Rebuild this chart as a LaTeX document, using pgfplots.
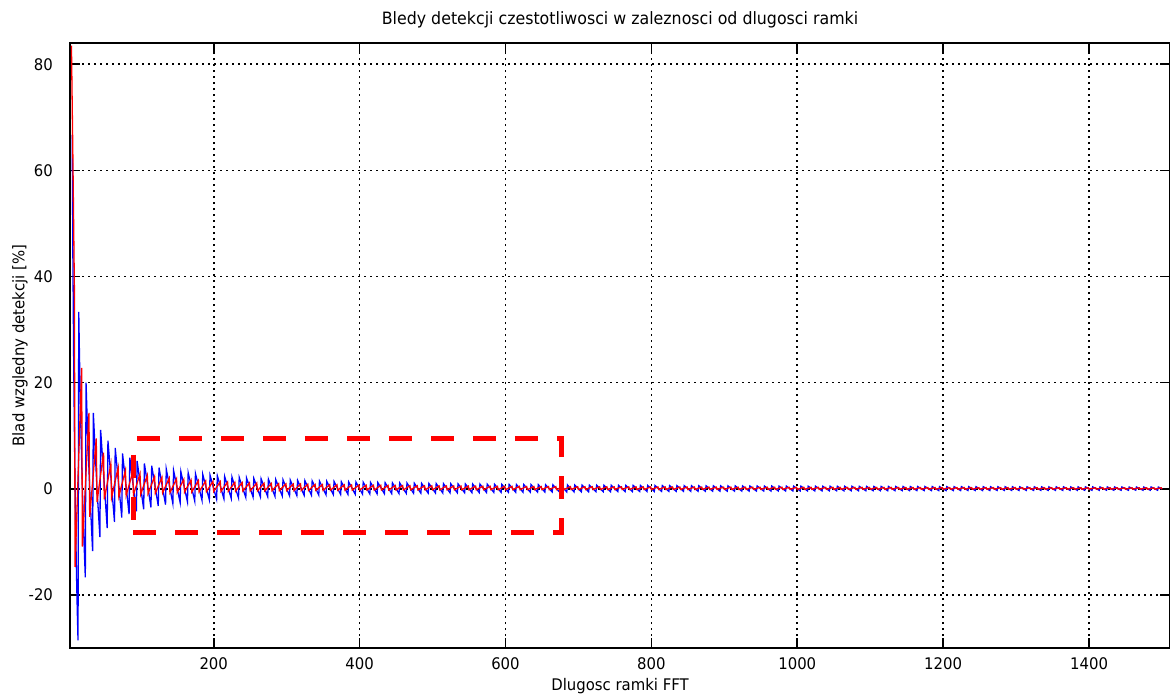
\documentclass[border=0pt]{standalone}
\usepackage{pgfplots}
\pgfplotsset{compat=1.18}
\usepackage{fontspec}
\setmainfont{DejaVu Sans}[FakeStretch=0.93]
\begin{document}
\begin{tikzpicture}
\path[use as bounding box] (-35pt,-25pt) rectangle (550pt,324pt);
\begin{axis}[
  scale only axis, width=550pt, height=302.5pt,
  at={(0,0)}, anchor=south west,
  xmin=3, xmax=1511, ymin=-30, ymax=84,
  xtick={200,400,...,1400}, ytick={-20,0,...,80},
  grid=major,
  major grid style={black, line width=0.8pt, dash pattern=on 0.8pt off 2.2pt},
  tick align=inside, tick pos=both, major tick length=5pt,
  axis line style={black, line width=0.8pt},
  every tick/.style={black, line width=0.8pt},
  font=\fontsize{8}{9.6}\selectfont,
  /pgf/number format/assume math mode=true,
  /pgf/number format/1000 sep={},
  title={Bledy detekcji czestotliwosci w zaleznosci od dlugosci ramki},
  title style={font=\fontsize{8.5}{10}\selectfont, yshift=-2pt},
  xlabel={Dlugosc ramki FFT},
  xlabel style={at={(0.5,0)}, anchor=base, yshift=-21pt},
  ylabel={Blad wzgledny detekcji [\%]},
  ylabel style={at={(axis description cs:-0.0455,0.5)}, anchor=center},
  xticklabel style={anchor=base, yshift=-10.5pt},
  yticklabel style={anchor=east, xshift=-5pt},
]
% blue: FFT bin rounding error
\addplot[blue, line width=0.65pt] coordinates {
(6,66.67) (7,42.86) (8,25) (9,11.11) (10,0) (11,-9.09) (12,-16.67) (13,-23.08) (14,-28.57)
(15,33.33) (16,25) (17,17.65) (18,11.11) (19,5.26) (20,0) (21,-4.76) (22,-9.09) (23,-13.04) (24,-16.67)
(25,20) (27,11.11) (30,0) (34,-11.76) (35,14.29) (40,0) (44,-9.09)
(45,11.11) (54,-7.41) (55,9.09) (64,-6.25) (65,7.69) (74,-5.41) (75,6.67) (84,-4.76)
(85,5.88) (94,-4.26) (95,5.26) (104,-3.85) (105,4.76) (114,-3.51) (115,4.35) (124,-3.23)
(125,4.00) (134,-2.99) (135,3.70) (144,-2.78) (145,3.45) (154,-2.60) (155,3.23) (164,-2.44)
(165,3.03) (174,-2.30) (175,2.86) (184,-2.17) (185,2.70) (194,-2.06) (195,2.56) (204,-1.96)
(205,2.44) (214,-1.87) (215,2.33) (224,-1.79) (225,2.22) (234,-1.71) (235,2.13) (244,-1.64)
(245,2.04) (254,-1.57) (255,1.96) (264,-1.52) (265,1.89) (274,-1.46) (275,1.82) (284,-1.41)
(285,1.75) (294,-1.36) (295,1.69) (304,-1.32) (305,1.64) (314,-1.27) (315,1.59) (324,-1.23)
(325,1.54) (334,-1.20) (335,1.49) (344,-1.16) (345,1.45) (354,-1.13) (355,1.41) (364,-1.10)
(365,1.37) (374,-1.07) (375,1.33) (384,-1.04) (385,1.30) (394,-1.02) (395,1.27) (404,-0.99)
(405,1.23) (414,-0.97) (415,1.20) (424,-0.94) (425,1.18) (434,-0.92) (435,1.15) (444,-0.90)
(445,1.12) (454,-0.88) (455,1.10) (464,-0.86) (465,1.08) (474,-0.84) (475,1.05) (484,-0.83)
(485,1.03) (494,-0.81) (495,1.01) (504,-0.79) (505,0.99) (514,-0.78) (515,0.97) (524,-0.76)
(525,0.95) (534,-0.75) (535,0.93) (544,-0.74) (545,0.92) (554,-0.72) (555,0.90) (564,-0.71)
(565,0.88) (574,-0.70) (575,0.87) (584,-0.68) (585,0.85) (594,-0.67) (595,0.84) (604,-0.66)
(605,0.83) (614,-0.65) (615,0.81) (624,-0.64) (625,0.80) (634,-0.63) (635,0.79) (644,-0.62)
(645,0.78) (654,-0.61) (655,0.76) (664,-0.60) (665,0.75) (674,-0.59) (675,0.74) (684,-0.58)
(685,0.73) (694,-0.58) (695,0.72) (704,-0.57) (705,0.71) (714,-0.56) (715,0.70) (724,-0.55)
(725,0.69) (734,-0.55) (735,0.68) (744,-0.54) (745,0.67) (754,-0.53) (755,0.66) (764,-0.52)
(765,0.65) (774,-0.52) (775,0.65) (784,-0.51) (785,0.64) (794,-0.50) (795,0.63) (804,-0.50)
(805,0.62) (814,-0.49) (815,0.61) (824,-0.49) (825,0.61) (834,-0.48) (835,0.60) (844,-0.47)
(845,0.59) (854,-0.47) (855,0.58) (864,-0.46) (865,0.58) (874,-0.46) (875,0.57) (884,-0.45)
(885,0.56) (894,-0.45) (895,0.56) (904,-0.44) (905,0.55) (914,-0.44) (915,0.55) (924,-0.43)
(925,0.54) (934,-0.43) (935,0.53) (944,-0.42) (945,0.53) (954,-0.42) (955,0.52) (964,-0.42)
(965,0.52) (974,-0.41) (975,0.51) (984,-0.41) (985,0.51) (994,-0.40) (995,0.50) (1004,-0.40)
(1005,0.50) (1014,-0.39) (1015,0.49) (1024,-0.39) (1025,0.49) (1034,-0.39) (1035,0.48) (1044,-0.38)
(1045,0.48) (1054,-0.38) (1055,0.47) (1064,-0.38) (1065,0.47) (1074,-0.37) (1075,0.47) (1084,-0.37)
(1085,0.46) (1094,-0.37) (1095,0.46) (1104,-0.36) (1105,0.45) (1114,-0.36) (1115,0.45) (1124,-0.36)
(1125,0.44) (1134,-0.35) (1135,0.44) (1144,-0.35) (1145,0.44) (1154,-0.35) (1155,0.43) (1164,-0.34)
(1165,0.43) (1174,-0.34) (1175,0.43) (1184,-0.34) (1185,0.42) (1194,-0.34) (1195,0.42) (1204,-0.33)
(1205,0.41) (1214,-0.33) (1215,0.41) (1224,-0.33) (1225,0.41) (1234,-0.32) (1235,0.40) (1244,-0.32)
(1245,0.40) (1254,-0.32) (1255,0.40) (1264,-0.32) (1265,0.39) (1274,-0.31) (1275,0.39) (1284,-0.31)
(1285,0.39) (1294,-0.31) (1295,0.39) (1304,-0.31) (1305,0.38) (1314,-0.30) (1315,0.38) (1324,-0.30)
(1325,0.38) (1334,-0.30) (1335,0.37) (1344,-0.30) (1345,0.37) (1354,-0.30) (1355,0.37) (1364,-0.29)
(1365,0.37) (1374,-0.29) (1375,0.36) (1384,-0.29) (1385,0.36) (1394,-0.29) (1395,0.36) (1404,-0.28)
(1405,0.36) (1414,-0.28) (1415,0.35) (1424,-0.28) (1425,0.35) (1434,-0.28) (1435,0.35) (1444,-0.28)
(1445,0.35) (1454,-0.28) (1455,0.34) (1464,-0.27) (1465,0.34) (1474,-0.27) (1475,0.34) (1484,-0.27)
(1485,0.34) (1494,-0.27) (1495,0.33) (1500,0)
};
% red: second estimate
\addplot[red, line width=0.65pt] coordinates {
(5,83.5) (7,62) (9,38) (10,-14.7) (19,22.8) (20,-10.9) (29,14.3) (30,-5.3) (39,9.5) (40,-2.5)
(49,6.8) (50,-2.0) (59,4.67) (60,-1.67) (69,4.0) (70,-1.43) (79,3.5) (80,-1.25) (89,3.11) (90,-1.11)
(99,2.8) (100,-1.0) (109,2.55) (110,-0.91) (119,2.33) (120,-0.83) (129,2.15) (130,-0.77) (139,2.0) (140,-0.71)
(149,1.87) (150,-0.67) (159,1.75) (160,-0.63) (169,1.65) (170,-0.59) (179,1.56) (180,-0.56) (189,1.47) (190,-0.53)
(199,1.4) (200,-0.5) (209,1.33) (210,-0.48) (219,1.27) (220,-0.45) (229,1.22) (230,-0.43) (239,1.17) (240,-0.42)
(249,1.12) (250,-0.4) (259,1.08) (260,-0.38) (269,1.04) (270,-0.37) (279,1.0) (280,-0.36) (289,0.97) (290,-0.34)
(299,0.93) (300,-0.33) (309,0.9) (310,-0.32) (319,0.88) (320,-0.31) (329,0.85) (330,-0.3) (339,0.82) (340,-0.29)
(349,0.8) (350,-0.29) (359,0.78) (360,-0.28) (369,0.76) (370,-0.27) (379,0.74) (380,-0.26) (389,0.72) (390,-0.26)
(399,0.7) (400,-0.25) (409,0.68) (410,-0.24) (419,0.67) (420,-0.24) (429,0.65) (430,-0.23) (439,0.64) (440,-0.23)
(449,0.62) (450,-0.22) (459,0.61) (460,-0.22) (469,0.6) (470,-0.21) (479,0.58) (480,-0.21) (489,0.57) (490,-0.2)
(499,0.56) (500,-0.2) (509,0.55) (510,-0.2) (519,0.54) (520,-0.19) (529,0.53) (530,-0.19) (539,0.52) (540,-0.19)
(549,0.51) (550,-0.18) (559,0.5) (560,-0.18) (569,0.49) (570,-0.18) (579,0.48) (580,-0.17) (589,0.47) (590,-0.17)
(599,0.47) (600,-0.17) (609,0.46) (610,-0.16) (619,0.45) (620,-0.16) (629,0.44) (630,-0.16) (639,0.44) (640,-0.16)
(649,0.43) (650,-0.15) (659,0.42) (660,-0.15) (669,0.42) (670,-0.15) (679,0.41) (680,-0.15) (689,0.41) (690,-0.14)
(699,0.4) (700,-0.14) (709,0.39) (710,-0.14) (719,0.39) (720,-0.14) (729,0.38) (730,-0.14) (739,0.38) (740,-0.14)
(749,0.37) (750,-0.13) (759,0.37) (760,-0.13) (769,0.36) (770,-0.13) (779,0.36) (780,-0.13) (789,0.35) (790,-0.13)
(799,0.35) (800,-0.13) (809,0.35) (810,-0.12) (819,0.34) (820,-0.12) (829,0.34) (830,-0.12) (839,0.33) (840,-0.12)
(849,0.33) (850,-0.12) (859,0.33) (860,-0.12) (869,0.32) (870,-0.11) (879,0.32) (880,-0.11) (889,0.31) (890,-0.11)
(899,0.31) (900,-0.11) (909,0.31) (910,-0.11) (919,0.3) (920,-0.11) (929,0.3) (930,-0.11) (939,0.3) (940,-0.11)
(949,0.29) (950,-0.1) (959,0.29) (960,-0.1) (969,0.29) (970,-0.1) (979,0.29) (980,-0.1) (989,0.28) (990,-0.1)
(999,0.28) (1000,-0.1) (1009,0.28) (1010,-0.1) (1019,0.27) (1020,-0.1) (1029,0.27) (1030,-0.1) (1039,0.27) (1040,-0.1)
(1049,0.27) (1050,-0.1) (1059,0.26) (1060,-0.09) (1069,0.26) (1070,-0.09) (1079,0.26) (1080,-0.09) (1089,0.26) (1090,-0.09)
(1099,0.25) (1100,-0.09) (1109,0.25) (1110,-0.09) (1119,0.25) (1120,-0.09) (1129,0.25) (1130,-0.09) (1139,0.25) (1140,-0.09)
(1149,0.24) (1150,-0.09) (1159,0.24) (1160,-0.09) (1169,0.24) (1170,-0.09) (1179,0.24) (1180,-0.08) (1189,0.24) (1190,-0.08)
(1199,0.23) (1200,-0.08) (1209,0.23) (1210,-0.08) (1219,0.23) (1220,-0.08) (1229,0.23) (1230,-0.08) (1239,0.23) (1240,-0.08)
(1249,0.22) (1250,-0.08) (1259,0.22) (1260,-0.08) (1269,0.22) (1270,-0.08) (1279,0.22) (1280,-0.08) (1289,0.22) (1290,-0.08)
(1299,0.22) (1300,-0.08) (1309,0.21) (1310,-0.08) (1319,0.21) (1320,-0.08) (1329,0.21) (1330,-0.08) (1339,0.21) (1340,-0.07)
(1349,0.21) (1350,-0.07) (1359,0.21) (1360,-0.07) (1369,0.2) (1370,-0.07) (1379,0.2) (1380,-0.07) (1389,0.2) (1390,-0.07)
(1399,0.2) (1400,-0.07) (1409,0.2) (1410,-0.07) (1419,0.2) (1420,-0.07) (1429,0.2) (1430,-0.07) (1439,0.19) (1440,-0.07)
(1449,0.19) (1450,-0.07) (1459,0.19) (1460,-0.07) (1469,0.19) (1470,-0.07) (1479,0.19) (1480,-0.07) (1489,0.19) (1490,-0.07)
(1499,0.19) (1500,-0.07)
};
% highlighted region
\addplot[red, line width=2.5pt, dash pattern=on 11.5pt off 9.5pt, sharp corners] coordinates {
(90,-8.3) (677,-8.3) (677,9.4) (90,9.4) (90,-8.3)
};
\end{axis}
\end{tikzpicture}
\end{document}
